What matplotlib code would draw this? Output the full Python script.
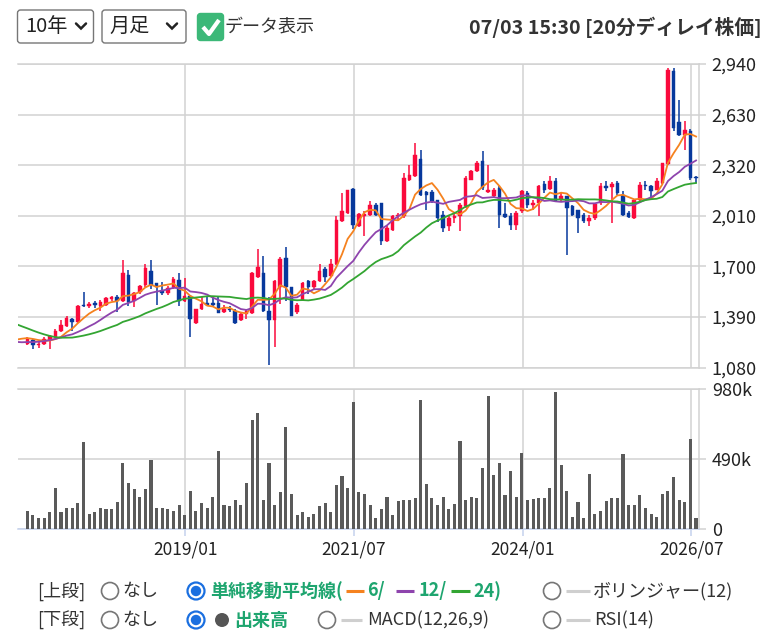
import matplotlib
matplotlib.use('Agg')
import matplotlib.pyplot as plt
from matplotlib.patches import FancyBboxPatch, Circle
import numpy as np

plt.rcParams['font.family'] = ['Noto Sans CJK JP', 'DejaVu Sans']

# ---------------- data ----------------
start_year, start_month = 2016, 8
opens = [1224, 1252, 1216, 1228, 1248, 1268, 1303, 1335, 1376, 1360,
         1465, 1455, 1475, 1457, 1467, 1499, 1516, 1487, 1649, 1491,
         1542, 1589, 1674, 1597, 1552, 1540, 1572, 1617, 1487, 1522,
         1354, 1437, 1479, 1475, 1475, 1420, 1441, 1430, 1370, 1406,
         1416, 1633, 1663, 1426, 1370, 1572, 1749, 1576, 1420, 1495,
         1609, 1572, 1609, 1684, 1643, 1714, 1978, 2028, 2175, 1945,
         2007, 2017, 2074, 2089, 1853, 1925, 2007, 2007, 2232, 2257,
         2361, 2154, 2154, 2105, 2017, 1945, 1997, 2007, 2068, 2232,
         2283, 2344, 2154, 2130, 2181, 2023, 2007, 1956, 2038, 2150,
         2079, 2089, 2207, 2174, 2222, 2113, 2130, 2068, 2044, 2017,
         1976, 1997, 2089, 2191, 2187, 2211, 2140, 2027, 1997, 2109,
         2201, 2195, 2170, 2211, 2330, 2899, 2586, 2504, 2529, 2250]
highs = [1268, 1254, 1238, 1268, 1279, 1319, 1374, 1394, 1384, 1461,
         1542, 1481, 1488, 1495, 1516, 1522, 1526, 1740, 1678, 1542,
         1588, 1714, 1742, 1600, 1603, 1580, 1633, 1663, 1629, 1528,
         1441, 1512, 1511, 1522, 1511, 1461, 1455, 1441, 1414, 1441,
         1667, 1805, 1765, 1512, 1617, 1755, 1822, 1576, 1475, 1603,
         1617, 1620, 1714, 1694, 1745, 2008, 2150, 2170, 2178, 2027,
         2038, 2099, 2089, 2089, 1945, 2017, 2030, 2273, 2324, 2457,
         2412, 2160, 2171, 2109, 2038, 2007, 2025, 2089, 2252, 2293,
         2344, 2406, 2324, 2181, 2191, 2089, 2027, 2038, 2171, 2160,
         2110, 2201, 2222, 2252, 2242, 2150, 2130, 2079, 2048, 2027,
         2017, 2089, 2211, 2225, 2215, 2222, 2160, 2038, 2113, 2218,
         2225, 2201, 2242, 2334, 2913, 2913, 2719, 2590, 2539, 2252]
lows = [1216, 1195, 1198, 1218, 1195, 1264, 1299, 1329, 1305, 1356,
        1451, 1447, 1445, 1430, 1455, 1491, 1424, 1481, 1455, 1451,
        1532, 1572, 1562, 1461, 1528, 1525, 1562, 1455, 1481, 1268,
        1349, 1431, 1459, 1455, 1414, 1414, 1420, 1349, 1366, 1380,
        1410, 1629, 1420, 1096, 1208, 1471, 1491, 1396, 1410, 1487,
        1532, 1560, 1603, 1603, 1637, 1710, 1974, 2022, 1930, 1940,
        1888, 2007, 2007, 1833, 1847, 1915, 1980, 1997, 2222, 2248,
        2134, 2048, 2089, 1970, 1909, 1915, 1965, 1915, 2058, 2228,
        2277, 2171, 2150, 2119, 1935, 1997, 1925, 1925, 2027, 2058,
        2045, 2011, 2150, 2167, 2093, 2099, 1772, 2007, 1905, 1966,
        1945, 1986, 2079, 2160, 1966, 2140, 2011, 1997, 1990, 2099,
        2170, 2119, 2167, 2207, 2324, 2529, 2498, 2412, 2232, 2211]
closes = [1254, 1218, 1228, 1256, 1272, 1303, 1339, 1386, 1360, 1457,
          1455, 1471, 1462, 1481, 1507, 1516, 1487, 1657, 1481, 1536,
          1580, 1688, 1589, 1572, 1536, 1568, 1623, 1491, 1522, 1376,
          1437, 1471, 1463, 1461, 1414, 1441, 1432, 1355, 1406, 1426,
          1663, 1694, 1426, 1370, 1613, 1745, 1572, 1396, 1467, 1597,
          1572, 1609, 1674, 1633, 1714, 1984, 2038, 2170, 1955, 2023,
          2023, 2074, 2017, 1853, 1935, 2007, 2012, 2242, 2263, 2381,
          2140, 2140, 2099, 1997, 1935, 1997, 2007, 2079, 2242, 2283,
          2334, 2181, 2171, 2171, 2017, 2003, 1952, 2027, 2160, 2079,
          2089, 2195, 2171, 2222, 2099, 2134, 2058, 2017, 1997, 1976,
          1997, 2085, 2191, 2181, 2207, 2150, 2017, 2003, 2109, 2201,
          2190, 2160, 2222, 2334, 2903, 2549, 2504, 2535, 2242, 2242]
volumes_k = [130, 102, 78, 78, 121, 291, 121, 151, 151, 185,
             611, 109, 120, 151, 142, 142, 194, 462, 322, 279,
             227, 279, 483, 151, 151, 140, 130, 173, 99, 270,
             130, 185, 151, 227, 547, 173, 160, 206, 173, 322,
             760, 812, 206, 462, 173, 258, 717, 249, 99, 121,
             88, 110, 161, 185, 121, 312, 374, 291, 888, 258,
             249, 173, 78, 142, 227, 99, 200, 206, 206, 218,
             900, 315, 218, 173, 227, 142, 180, 620, 206, 227,
             218, 428, 930, 376, 462, 237, 407, 227, 535, 206,
             210, 218, 218, 291, 961, 450, 270, 88, 194, 78,
             386, 109, 130, 200, 218, 218, 525, 173, 173, 237,
             150, 109, 88, 249, 270, 365, 206, 194, 632, 78]
# closes before the first visible month (feed the moving averages only)
pre_closes = [1570, 1560, 1540, 1530, 1520, 1500, 1480,
              1420, 1380, 1350, 1320, 1300, 1280,
              1240, 1220, 1200, 1210, 1200, 1215,
              1230, 1250, 1270, 1280, 1265, 1250]

price_ticks = [1080, 1390, 1700, 2010, 2320, 2630, 2940]
volume_ticks = [0, 490, 980]
volume_tick_labels = ['0', '490k', '980k']
date_ticks = ['2019/01', '2021/07', '2024/01', '2026/07']
ma_periods = [6, 12, 24]
ma_colors = ['#f5821f', '#8e44ad', '#33a532']

# ---------------- style ----------------
RED = '#fa0a3c'
BLUE = '#07389c'
GRID = '#d2d2d2'
TXT = '#222222'
GREEN_TXT = '#1ea56f'
W, H = 779, 643

def fx(px):
    return px / W

def fy(py):
    return 1 - py / H

fig = plt.figure(figsize=(W / 100, H / 100), dpi=100)

# ---------------- UI layer (pixel coordinates) ----------------
ui = fig.add_axes([0, 0, 1, 1])
ui.set_xlim(0, W)
ui.set_ylim(H, 0)
ui.axis('off')

for (x0, x1, label, chev) in [(17.5, 93.5, '10年', 81), (102, 186, '月足', 172)]:
    ui.add_patch(FancyBboxPatch((x0, 10), x1 - x0, 33,
                                boxstyle='round,pad=0,rounding_size=3',
                                fc='white', ec='#767676', lw=1.0))
    ui.text(x0 + 7.5, 26.5, label, fontsize=14.5, color=TXT, va='center', ha='left')
    ui.plot([chev - 5, chev, chev + 5], [23.5, 28.5, 23.5], color='#222222', lw=1.8,
            solid_capstyle='round', solid_joinstyle='miter')

ui.add_patch(FancyBboxPatch((197.5, 13.5), 26, 27, boxstyle='round,pad=0,rounding_size=3',
                            fc='#3cb878', ec='#3cb878', lw=1))
ui.plot([203, 209, 219], [27, 34, 20], color='white', lw=3, solid_capstyle='butt')
ui.text(225, 26.5, 'データ表示', fontsize=13, color='#333333', va='center', ha='left')
ui.text(762, 27, '07/03 15:30 [20分ディレイ株価]', fontsize=14.2, fontweight='bold',
        color='#333333', va='center', ha='right')

def radio(x, y, selected):
    if selected:
        ui.add_patch(Circle((x, y), 8.5, fc='white', ec='#1a6fe0', lw=1.6))
        ui.add_patch(Circle((x, y), 5.2, fc='#1a6fe0', ec='none'))
    else:
        ui.add_patch(Circle((x, y), 8.5, fc='white', ec='#767676', lw=1.2))

def dash(x0, x1, y, c):
    ui.plot([x0, x1], [y, y], color=c, lw=2.2, solid_capstyle='butt')

y1, y2 = 591, 620
fs = 13
ui.text(37, y1, '[上段]', fontsize=fs, color='#333333', va='center')
radio(110, y1, False)
ui.text(122, y1, 'なし', fontsize=fs, color='#333333', va='center')
radio(196, y1, True)
ui.text(210, y1, '単純移動平均線(', fontsize=fs, color=GREEN_TXT, fontweight='bold', va='center')
dash(346, 364, y1, ma_colors[0])
ui.text(367, y1, '6/', fontsize=fs, color=GREEN_TXT, fontweight='bold', va='center')
dash(396, 414, y1, ma_colors[1])
ui.text(419, y1, '12/', fontsize=fs, color=GREEN_TXT, fontweight='bold', va='center')
dash(451, 470, y1, ma_colors[2])
ui.text(473, y1, '24)', fontsize=fs, color=GREEN_TXT, fontweight='bold', va='center')
radio(552, y1, False)
dash(566, 590, y1, '#cfcfcf')
ui.text(593, y1, 'ボリンジャー(12)', fontsize=fs, color='#333333', va='center')

ui.text(37, y2, '[下段]', fontsize=fs, color='#333333', va='center')
radio(110, y2, False)
ui.text(122, y2, 'なし', fontsize=fs, color='#333333', va='center')
radio(196, y2, True)
ui.add_patch(Circle((222, y2), 7, fc='#555555', ec='none'))
ui.text(234, y2, '出来高', fontsize=fs, color=GREEN_TXT, fontweight='bold', va='center')
radio(327, y2, False)
dash(341, 362, y2, '#cfcfcf')
ui.text(367, y2, 'MACD(12,26,9)', fontsize=fs, color='#333333', va='center')
radio(552, y2, False)
dash(566, 590, y2, '#cfcfcf')
ui.text(594, y2, 'RSI(14)', fontsize=fs, color='#333333', va='center')

# ---------------- chart axes ----------------
left_px, right_px = 18, 699.3
axp = fig.add_axes([fx(left_px), fy(367.7), (right_px - left_px) / W, (367.7 - 64) / H])
axv = fig.add_axes([fx(left_px), fy(529.3), (right_px - left_px) / W, (529.3 - 389) / H])
for ax in (axp, axv):
    ax.patch.set_alpha(0)

n = len(closes)
xs = np.arange(n)
xlim = (-1.66, n - 1 + 0.58)

def month_index(label):
    y, m = label.split('/')
    return (int(y) - start_year) * 12 + (int(m) - start_month)

date_pos = [month_index(d) - 0.87 for d in date_ticks]

# price panel
o = np.array(opens); c = np.array(closes); h = np.array(highs); l = np.array(lows)
up = c >= o
cols = np.where(up, RED, BLUE)
axp.vlines(xs, l, h, colors=cols, lw=1.1, zorder=3)
bottoms = np.minimum(o, c)
heights = np.maximum(np.abs(c - o), 6)
axp.bar(xs, heights, bottom=bottoms, width=0.64, color=cols, edgecolor=cols, lw=0.3, zorder=4)

allc = np.array(pre_closes + closes, dtype=float)
npre = len(pre_closes)
for p, col in zip(ma_periods, ma_colors):
    idx = np.arange(npre - 2, len(allc))
    ma = np.array([allc[i - p + 1:i + 1].mean() for i in idx])
    axp.plot(idx - npre, ma, color=col, lw=1.3, zorder=5)

axp.set_xlim(*xlim)
axp.set_ylim(price_ticks[0], price_ticks[-1])
axp.set_yticks(price_ticks)
axp.set_yticklabels([f'{t:,}' for t in price_ticks])
axp.set_xticks(date_pos)
axp.tick_params(axis='x', length=0, labelbottom=False)
axp.yaxis.tick_right()
axp.tick_params(axis='y', which='both', length=5, width=1.1, color=GRID, pad=4,
                labelsize=13, labelcolor=TXT, left=False)
axp.grid(True, color=GRID, lw=1.1, zorder=0)
axp.spines['left'].set_visible(False)
for s in ['top', 'bottom', 'right']:
    axp.spines[s].set_color(GRID)
    axp.spines[s].set_linewidth(1.1)

# volume panel
axv.bar(xs, volumes_k, width=0.55, color='#5a5a5a', zorder=3)
axv.set_xlim(*xlim)
axv.set_ylim(volume_ticks[0], volume_ticks[-1])
axv.set_yticks(volume_ticks)
axv.set_yticklabels(volume_tick_labels)
axv.yaxis.tick_right()
axv.tick_params(axis='y', length=5, width=1.1, color=GRID, pad=4,
                labelsize=13, labelcolor=TXT, left=False)
axv.set_xticks(date_pos)
axv.set_xticklabels(date_ticks)
axv.tick_params(axis='x', length=5, width=1.1, color='#c5d2ee', pad=3,
                labelsize=12.5, labelcolor=TXT)
axv.grid(True, color=GRID, lw=1.1, zorder=0)
axv.spines['left'].set_visible(False)
for s in ['top', 'right']:
    axv.spines[s].set_color(GRID)
    axv.spines[s].set_linewidth(1.1)
axv.spines['bottom'].set_color('#c5d2ee')
axv.spines['bottom'].set_linewidth(1.1)

fig.savefig('out.png', dpi=100)
